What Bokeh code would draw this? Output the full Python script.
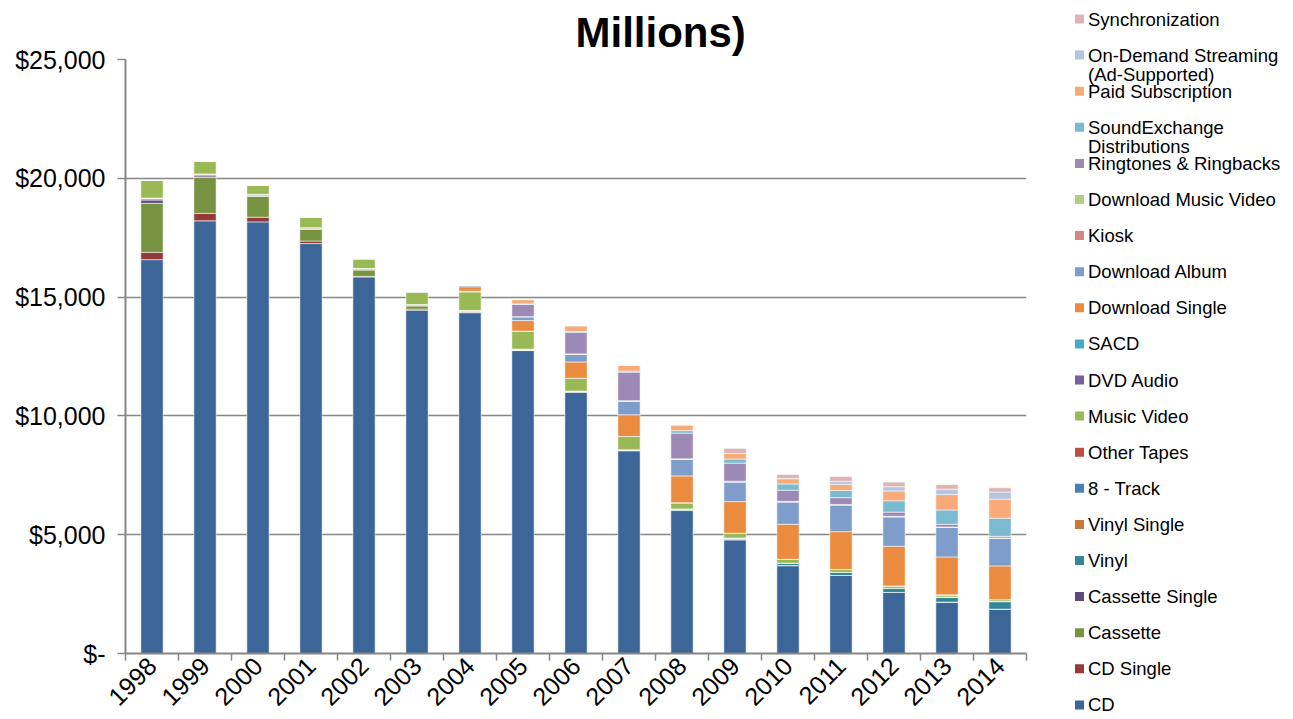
import math
from bokeh.plotting import figure
from bokeh.models import ColumnDataSource, Range1d, FixedTicker
from bokeh.layouts import row
from bokeh.embed import file_html
from bokeh.resources import INLINE
from bokeh.core.properties import value

# ---------------- data (inflation-adjusted, $ millions) ----------------
years = ["1998", "1999", "2000", "2001", "2002", "2003", "2004", "2005", "2006",
         "2007", "2008", "2009", "2010", "2011", "2012", "2013", "2014"]

cd = [16576, 18209, 18165, 17253, 15847, 14450, 14343, 12750, 11004, 8530, 6015, 4790, 3700, 3283, 2567, 2160, 1866]
cd_single = [310, 316, 196, 106, 26, 46, 19, 13, 9, 14, 4, 3, 1, 1, 1, 0, 0]
cassette = [2062, 1508, 885, 486, 276, 139, 30, 16, 4, 1, 0, 0, 0, 0, 0, 0, 0]
cassette_single = [137, 68, 6, 0, 0, 0, 0, 0, 0, 0, 0, 0, 0, 0, 0, 0, 0]
vinyl = [49, 45, 38, 37, 27, 28, 24, 17, 18, 26, 62, 66, 100, 126, 168, 214, 315]
vinyl_single = [37, 40, 36, 42, 33, 28, 25, 16, 13, 5, 3, 3, 2, 4, 3, 4, 6]
eight_track = [0, 0, 0, 0, 0, 0, 0, 0, 0, 0, 0, 0, 0, 0, 0, 0, 0]
other_tapes = [0, 0, 0, 0, 0, 0, 0, 0, 0, 0, 0, 0, 0, 0, 0, 0, 0]
music_video = [738, 535, 390, 440, 400, 514, 780, 740, 530, 555, 260, 200, 160, 120, 105, 90, 80]
dvd_audio = [0, 0, 0, 8, 11, 10, 8, 3, 1, 1, 0, 0, 0, 0, 0, 0, 0]
sacd = [0, 0, 0, 0, 0, 34, 21, 13, 5, 1, 0, 0, 0, 0, 0, 0, 0]
download_single = [0, 0, 0, 0, 0, 0, 185, 445, 684, 915, 1130, 1330, 1475, 1595, 1670, 1597, 1420]
download_album = [0, 0, 0, 0, 0, 0, 57, 160, 324, 560, 690, 825, 940, 1120, 1240, 1240, 1160]
kiosk = [0, 0, 0, 0, 0, 0, 0, 1, 2, 3, 2, 2, 2, 3, 2, 2, 2]
download_music_video = [0, 0, 0, 0, 0, 0, 0, 2, 17, 28, 29, 32, 25, 22, 20, 17, 15]
ringtones = [0, 0, 0, 0, 0, 0, 0, 515, 905, 1200, 1080, 760, 470, 285, 175, 115, 66]
soundexchange = [0, 0, 0, 0, 0, 0, 0, 25, 39, 45, 105, 175, 260, 300, 476, 600, 765]
paid_subscription = [0, 0, 0, 0, 0, 0, 0, 181, 242, 250, 245, 232, 225, 260, 415, 650, 800]
on_demand = [0, 0, 0, 0, 0, 0, 0, 0, 0, 0, 0, 0, 0, 125, 178, 224, 300]
synchronization = [0, 0, 0, 0, 0, 0, 0, 0, 0, 0, 0, 215, 175, 207, 194, 194, 180]

# stacking order: bottom -> top
series_names = ["CD", "CD Single", "Cassette", "Cassette Single", "Vinyl", "Vinyl Single",
                "8 - Track", "Other Tapes", "Music Video", "DVD Audio", "SACD",
                "Download Single", "Download Album", "Kiosk", "Download Music Video",
                "Ringtones & Ringbacks", "SoundExchange Distributions", "Paid Subscription",
                "On-Demand Streaming (Ad-Supported)", "Synchronization"]
series_values = [cd, cd_single, cassette, cassette_single, vinyl, vinyl_single,
                 eight_track, other_tapes, music_video, dvd_audio, sacd,
                 download_single, download_album, kiosk, download_music_video,
                 ringtones, soundexchange, paid_subscription, on_demand, synchronization]
colors = ["#3B6697", "#953A38", "#779341", "#5F4A7E", "#33879B", "#C8783A",
          "#4A7EBB", "#BE4B48", "#98B954", "#7D5FA0", "#46AAC5",
          "#EA8B3F", "#7F9DCA", "#D58784", "#B1CD86",
          "#9D89B6", "#7BBACF", "#F8AB78", "#B5C4E1", "#DDB4B3"]

y_ticks = [0, 5000, 10000, 15000, 20000, 25000]
y_tick_labels = ["$-", "$5,000", "$10,000", "$15,000", "$20,000", "$25,000"]
title_text = "Millions)"

FONT = "Liberation Sans"
GREY = "#868686"

# ---------------- geometry (canvas pixels) ----------------
H = 717
MAIN_W = 1062
LEG_W = 228
FL, FR, FT, FB = 125, 1026, 59, 653   # frame left/right/top/bottom

xc = [i + 0.5 for i in range(len(years))]
data = {"x": xc}
keys = []
for i, vals in enumerate(series_values):
    k = "s%d" % i
    data[k] = vals
    keys.append(k)
source = ColumnDataSource(data)

p = figure(width=MAIN_W, height=H, x_range=Range1d(0, len(years)),
           y_range=Range1d(0, 25000), output_backend="svg", toolbar_location=None,
           min_border_left=FL, min_border_right=MAIN_W - FR, min_border_top=FT,
           min_border_bottom=H - FB)
p.outline_line_color = None
p.background_fill_color = "white"

p.vbar_stack(keys, x="x", width=0.42, source=source, fill_color=colors,
             line_color="white", line_alpha=0.55, line_width=1)

# title
p.title.text = title_text
p.title.text_font = FONT
p.title.text_font_size = "42px"
p.title.text_font_style = "bold"
p.title.text_color = "black"
p.title.align = "left"
p.title.offset = 450
p.title.standoff = 8

# x axis
p.xaxis.ticker = FixedTicker(ticks=xc, minor_ticks=list(range(len(years) + 1)))
p.xaxis.major_label_overrides = {x: y for x, y in zip(xc, years)}
p.xaxis.major_label_orientation = math.pi / 4
p.xaxis.major_tick_line_color = None
p.xaxis.major_tick_out = 0
p.xaxis.major_tick_in = 0
p.xaxis.minor_tick_out = 7
p.xaxis.minor_tick_in = 0
p.xaxis.minor_tick_line_color = GREY
p.xaxis.minor_tick_line_width = 1.5
p.xaxis.axis_line_color = GREY
p.xaxis.axis_line_width = 2
p.xaxis.major_label_text_font = FONT
p.xaxis.major_label_text_font_size = "25px"
p.xaxis.major_label_text_color = "black"
p.xaxis.major_label_standoff = 1

# y axis
p.yaxis.ticker = FixedTicker(ticks=y_ticks)
p.yaxis.major_label_overrides = {t: l for t, l in zip(y_ticks, y_tick_labels)}
p.yaxis.minor_tick_line_color = None
p.yaxis.major_tick_out = 8
p.yaxis.major_tick_in = 0
p.yaxis.major_tick_line_color = GREY
p.yaxis.major_tick_line_width = 1.5
p.yaxis.axis_line_color = GREY
p.yaxis.axis_line_width = 2
p.yaxis.major_label_text_font = FONT
p.yaxis.major_label_text_font_size = "25px"
p.yaxis.major_label_text_color = "black"
p.yaxis.major_label_standoff = 12

p.xgrid.visible = False
p.ygrid.ticker = FixedTicker(ticks=y_ticks)
p.ygrid.grid_line_color = GREY
p.ygrid.grid_line_width = 1.5

# ---------------- legend panel (1 unit = 1 px) ----------------
lg = figure(width=LEG_W, height=H, x_range=Range1d(0, LEG_W), y_range=Range1d(H, 0),
            output_backend="svg", toolbar_location=None, min_border=0,
            x_axis_location=None, y_axis_location=None, title=None)
lg.outline_line_color = None
lg.grid.visible = False
try:
    p.frame_align = False
    lg.frame_align = False
except Exception:
    pass

X0 = MAIN_W
step = 36.1
sq_x, sq_y, sq_c = [], [], []
tx, ty, tt = [], [], []
for k, idx in enumerate(range(len(series_names) - 1, -1, -1)):
    name = series_names[idx]
    yc = 18.5 + step * k
    sq_x.append(1079 - X0)
    sq_y.append(yc)
    sq_c.append(colors[idx])
    if len(name) > 22:
        cut = name.rfind(" ", 0, 22)
        lines = [name[:cut], name[cut + 1:]]
    else:
        lines = [name]
    for j, ln in enumerate(lines):
        tx.append(1087.5 - X0)
        ty.append(yc + 19.5 * j)
        tt.append(ln)

lg.rect(x=sq_x, y=sq_y, width=9, height=9, fill_color=sq_c, line_color=None)
lg.text(x=tx, y=ty, text=tt, text_font=value(FONT), text_font_size="18.5px",
        text_baseline="middle", text_align="left", text_color="black")

layout = row(p, lg)
open("out.html", "w").write(file_html(layout, INLINE))
